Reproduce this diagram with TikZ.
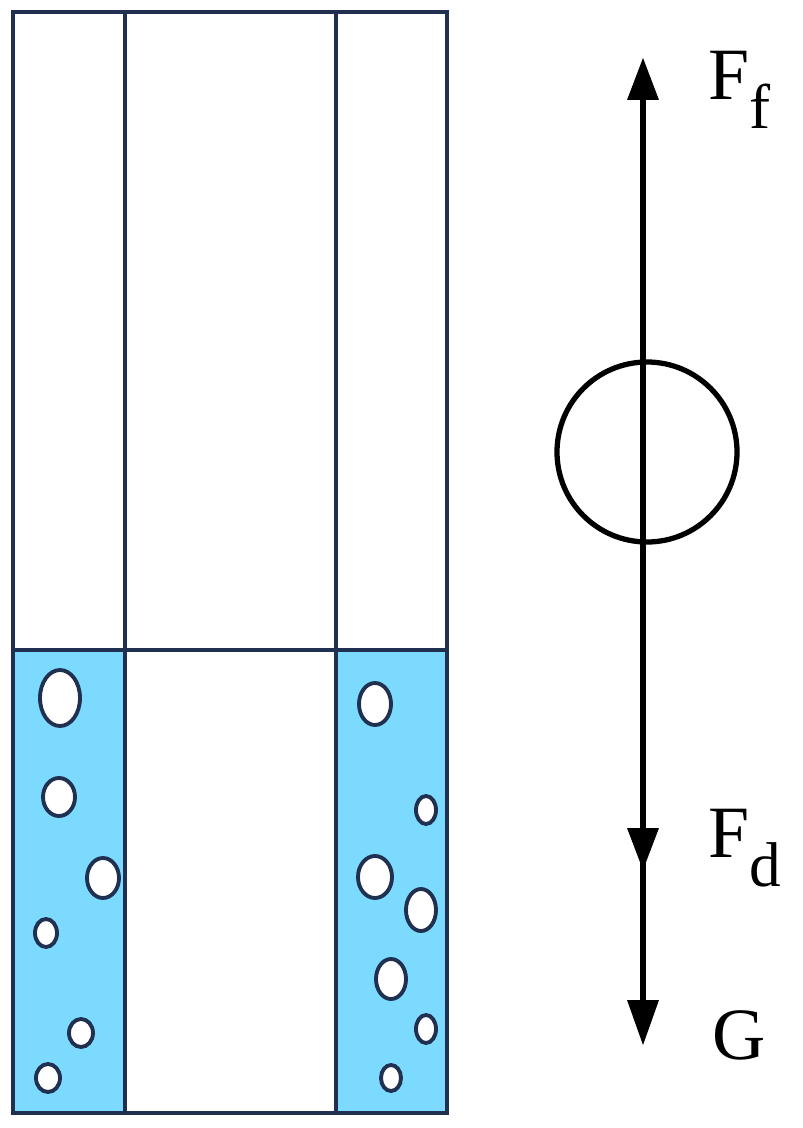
\documentclass[tikz,border=0pt]{standalone}
\usepackage{fontspec}
\setmainfont{Liberation Serif}
\usetikzlibrary{arrows.meta}
\definecolor{water}{HTML}{7DDAFF}
\definecolor{frame}{HTML}{1F3050}
\tikzset{bub/.style={draw=frame,line width=2.2pt,fill=white},
 wall/.style={draw=frame,line width=2pt},
 force/.style={line width=3pt},
 lbl/.style={font=\fontsize{42}{48}\selectfont,anchor=west,inner sep=0}}
\begin{document}
\begin{tikzpicture}[x=0.02cm,y=-0.02cm]
\useasboundingbox (0,0) rectangle (802,1128);
\fill[water] (13,650) rectangle (125,1113);
\fill[water] (336,650) rectangle (447,1113);
\draw[wall] (13,12) rectangle (447,1113);
\draw[wall] (125,12) -- (125,1113);
\draw[wall] (336,12) -- (336,1113);
\draw[wall] (13,650) -- (447,650);
\foreach \x/\y/\a/\b in {60/698/20/28,59/797/16/19,103/878/16/20,46/933/11/14,81/1033/12/14,48/1078/12/14,
375/704/16/21,426/810/10/14,375/877/17/21,421/910/15/21,391/979/15/20,426/1029/10/14,391/1078/10/13}
 \draw[bub] (\x,\y) ellipse [x radius=\a*0.02cm, y radius=\b*0.02cm];
\coordinate (top) at (643,58);
\coordinate (bot) at (643,1045);
\coordinate (mid) at (643,870);
\node[draw,line width=3pt,circle,minimum size=180*0.02cm,inner sep=0] (ball) at (647,452) {};
\draw[force] (643,100) -- (643,1000);
\fill (top) -- ++(-16,42) -- ++(32,0) -- cycle;
\fill (mid) -- ++(-16,-42) -- ++(32,0) -- cycle;
\fill (bot) -- ++(-16,-45) -- ++(32,0) -- cycle;
\node[lbl] (ff) at (708,90) {F\textsubscript{\fontsize{36}{40}\selectfont f}};
\node[lbl] (fd) at (708,848) {F\textsubscript{\fontsize{36}{40}\selectfont d}};
\node[lbl] (g) at (712,1035) {G};
\end{tikzpicture}
\end{document}
